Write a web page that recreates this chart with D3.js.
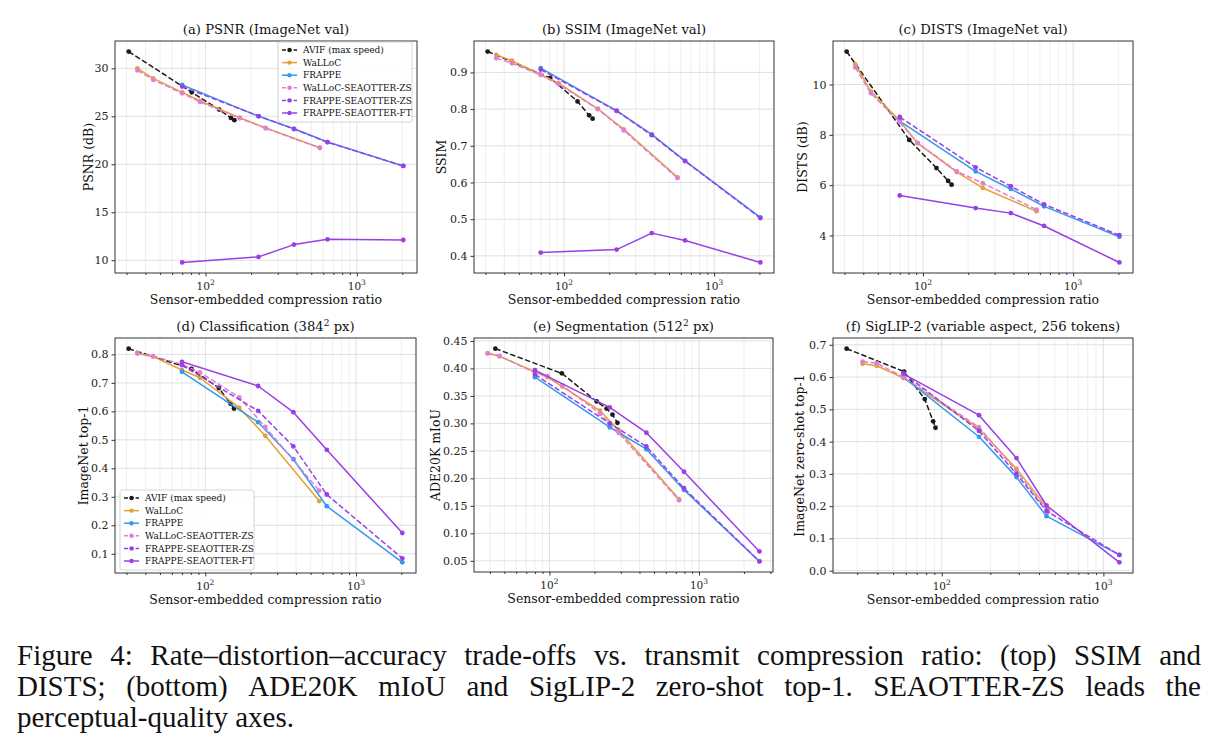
<!DOCTYPE html>
<html lang="en">
<head>
<meta charset="UTF-8">
<title>Figure 4</title>
<script src="https://cdn.jsdelivr.net/npm/d3@7/dist/d3.min.js"></script>
<style>
  * { margin: 0; padding: 0; box-sizing: border-box; }
  body { background: #fff; width: 1219px; height: 753px; overflow: hidden; }
  svg { display: block; }
  .tick text { font-family: 'DejaVu Serif', serif; font-size: 11px; fill: #222; }
  .tick line { stroke: #333; }
</style>
</head>
<body>
<svg id="fig" width="1219" height="753"></svg>
<script>
// ---- data ----
// shared x positions, top row + classification
const avifX = [31, 81, 123, 147, 155];
const wallocX = [35.4, 45, 70, 92, 168, 250, 570];
const frappeX = [70, 224, 384, 640, 2030];

// (a) PSNR
const psnrAvif = [31.75, 27.5, 25.7, 24.83, 24.6];
const psnrWalloc = [30.0, 28.95, 27.5, 26.6, 24.85, 23.8, 21.73];
const psnrFrappe = [28.28, 25.0, 23.7, 22.32, 19.83];
const psnrWallocZS = [29.8, 28.8, 27.4, 26.5, 24.8, 23.75, 21.7];
const psnrFrappeZS = [28.1, 25.03, 23.68, 22.3, 19.83];
const psnrFrappeFT = [9.77, 10.35, 11.63, 12.18, 12.11];

// (b) SSIM
const ssimAvif = [0.957, 0.885, 0.821, 0.783, 0.774];
const ssimWalloc = [0.948, 0.932, 0.894, 0.871, 0.801, 0.745, 0.614];
const ssimFrappe = [0.912, 0.796, 0.731, 0.659, 0.505];
const ssimWallocZS = [0.939, 0.925, 0.893, 0.868, 0.800, 0.742, 0.612];
const ssimFrappeZS = [0.908, 0.795, 0.729, 0.658, 0.503];
const ssimFrappeFT = [0.409, 0.417, 0.462, 0.442, 0.382];

// (c) DISTS
const distsAvif = [11.31, 7.80, 6.68, 6.17, 6.02];
const distsWalloc = [10.80, 9.72, 8.56, 7.67, 6.52, 5.89, 4.96];
const distsFrappe = [8.55, 6.55, 5.85, 5.16, 3.95];
const distsWallocZS = [10.68, 9.65, 8.50, 7.68, 6.55, 6.08, 5.03];
const distsFrappeZS = [8.71, 6.71, 5.96, 5.24, 4.01];
const distsFrappeFT = [5.59, 5.09, 4.89, 4.38, 2.93];

// (d) classification
const clsAvif = [0.820, 0.749, 0.682, 0.627, 0.610];
const clsWalloc = [0.803, 0.792, 0.745, 0.718, 0.613, 0.514, 0.285];
const clsFrappe = [0.739, 0.562, 0.432, 0.267, 0.070];
const clsWallocZS = [0.805, 0.794, 0.765, 0.737, 0.649, 0.545, 0.322];
const clsFrappeZS = [0.762, 0.602, 0.477, 0.308, 0.084];
const clsFrappeFT = [0.774, 0.689, 0.597, 0.465, 0.173];

// (e) segmentation
const segAvifX = [43.5, 121, 207, 241, 264, 285];
const segAvif = [0.436, 0.391, 0.340, 0.327, 0.316, 0.301];
const segWallocX = [38.6, 46.4, 80, 97, 122, 218, 290, 736];
const segWalloc = [0.427, 0.422, 0.394, 0.384, 0.367, 0.323, 0.288, 0.162];
const segWallocZS = [0.428, 0.423, 0.392, 0.386, 0.369, 0.318, 0.283, 0.160];
const segFrappeX = [80, 253, 445, 794, 2535];
const segFrappe = [0.384, 0.293, 0.253, 0.179, 0.049];
const segFrappeZS = [0.389, 0.300, 0.258, 0.182, 0.049];
const segFrappeFT = [0.397, 0.329, 0.283, 0.212, 0.067];

// (f) SigLIP-2 zero-shot
const zsAvifX = [25.8, 58.5, 78.5, 88.5, 91.5];
const zsAvif = [0.688, 0.617, 0.532, 0.463, 0.443];
const zsWallocX = [32.4, 39.6, 58, 170, 290, 455];
const zsWalloc = [0.641, 0.635, 0.597, 0.440, 0.316, 0.190];
const zsWallocZS = [0.648, 0.643, 0.600, 0.445, 0.309, 0.182];
const zsFrappeX = [58, 170, 290, 445, 1256];
const zsFrappe = [0.600, 0.415, 0.290, 0.169, 0.049];
const zsFrappeZS = [0.612, 0.433, 0.300, 0.185, 0.049];
const zsFrappeFT = [0.610, 0.482, 0.349, 0.202, 0.026];

const seriesNames = ['AVIF (max speed)', 'WaLLoC', 'FRAPPE', 'WaLLoC-SEAOTTER-ZS', 'FRAPPE-SEAOTTER-ZS', 'FRAPPE-SEAOTTER-FT'];

// ---- styles ----
const styles = {
  'AVIF (max speed)':   { color: '#1a1a1a', dash: '5.5,2.4' },
  'WaLLoC':             { color: '#e3a232', dash: null },
  'FRAPPE':             { color: '#3399f0', dash: null },
  'WaLLoC-SEAOTTER-ZS': { color: '#e07ed8', dash: '5.5,2.4' },
  'FRAPPE-SEAOTTER-ZS': { color: '#9a3fe6', dash: '5.5,2.4' },
  'FRAPPE-SEAOTTER-FT': { color: '#9a3fe6', dash: null },
};

function mk(xs, ...ys) {
  return ys.map((yv, i) => ({ name: seriesNames[i], xs: xs[i], ys: yv }));
}

const panels = [
  { title: ['(a) PSNR (ImageNet val)'], ylabel: 'PSNR (dB)', box: [115, 41, 417, 273],
    yTicks: [10, 15, 20, 25, 30], fmt: 'd', ylabX: 89, legend: [278, 42],
    series: mk([avifX, wallocX, frappeX, wallocX, frappeX, frappeX], psnrAvif, psnrWalloc, psnrFrappe, psnrWallocZS, psnrFrappeZS, psnrFrappeFT) },
  { title: ['(b) SSIM (ImageNet val)'], ylabel: 'SSIM', box: [474, 41, 774, 273],
    yTicks: [0.4, 0.5, 0.6, 0.7, 0.8, 0.9], fmt: '.1f', ylabX: 442,
    series: mk([avifX, wallocX, frappeX, wallocX, frappeX, frappeX], ssimAvif, ssimWalloc, ssimFrappe, ssimWallocZS, ssimFrappeZS, ssimFrappeFT) },
  { title: ['(c) DISTS (ImageNet val)'], ylabel: 'DISTS (dB)', box: [833, 41, 1133, 273],
    yTicks: [4, 6, 8, 10], fmt: 'd', ylabX: 803,
    series: mk([avifX, wallocX, frappeX, wallocX, frappeX, frappeX], distsAvif, distsWalloc, distsFrappe, distsWallocZS, distsFrappeZS, distsFrappeFT) },
  { title: ['(d) Classification (384', '2', ' px)'], ylabel: 'ImageNet top-1', box: [115, 338, 416, 573],
    yTicks: [0.1, 0.2, 0.3, 0.4, 0.5, 0.6, 0.7, 0.8], fmt: '.1f', ylabX: 84, legend: [120, 490],
    series: mk([avifX, wallocX, frappeX, wallocX, frappeX, frappeX], clsAvif, clsWalloc, clsFrappe, clsWallocZS, clsFrappeZS, clsFrappeFT) },
  { title: ['(e) Segmentation (512', '2', ' px)'], ylabel: 'ADE20K mIoU', box: [474, 338, 773, 572],
    yTicks: [0.05, 0.10, 0.15, 0.20, 0.25, 0.30, 0.35, 0.40, 0.45], fmt: '.2f', ylabX: 436,
    series: mk([segAvifX, segWallocX, segFrappeX, segWallocX, segFrappeX, segFrappeX], segAvif, segWalloc, segFrappe, segWallocZS, segFrappeZS, segFrappeFT) },
  { title: ['(f) SigLIP-2 (variable aspect, 256 tokens)'], ylabel: 'ImageNet zero-shot top-1', box: [833, 338, 1133, 573],
    yTicks: [0.0, 0.1, 0.2, 0.3, 0.4, 0.5, 0.6, 0.7], fmt: '.1f', ylabX: 800,
    series: mk([zsAvifX, zsWallocX, zsFrappeX, zsWallocX, zsFrappeX, zsFrappeX], zsAvif, zsWalloc, zsFrappe, zsWallocZS, zsFrappeZS, zsFrappeFT) },
];

const svg = d3.select('#fig');
svg.append('rect').attr('width', 1219).attr('height', 753).attr('fill', '#fff');

const SERIF = "'DejaVu Serif', serif";

function padded(lo, hi) {
  const m = (hi - lo) * 0.05;
  return [lo - m, hi + m];
}

function drawPanel(p) {
  const [x0, y0, x1, y1] = p.box;
  const allX = p.series.flatMap(s => s.xs), allY = p.series.flatMap(s => s.ys);
  const lx = padded(Math.log10(d3.min(allX)), Math.log10(d3.max(allX)));
  const x = d3.scaleLog().domain([10 ** lx[0], 10 ** lx[1]]).range([x0, x1]);
  const y = d3.scaleLinear().domain(padded(d3.min(allY), d3.max(allY))).range([y1, y0]);
  const g = svg.append('g');

  // ticks along x: majors + minors
  const [dlo, dhi] = x.domain();
  const majors = [], minors = [];
  for (let e = Math.floor(Math.log10(dlo)); e <= Math.ceil(Math.log10(dhi)); e++) {
    for (let k = 1; k <= 9; k++) {
      const v = k * 10 ** e;
      if (v < dlo || v > dhi) continue;
      (k === 1 ? majors : minors).push(v);
    }
  }

  // grid
  const grid = g.append('g');
  grid.selectAll('.gmin').data(minors).enter().append('line')
    .attr('x1', d => x(d)).attr('x2', d => x(d)).attr('y1', y0).attr('y2', y1)
    .attr('stroke', '#ebebeb').attr('stroke-width', 0.8);
  grid.selectAll('.gmaj').data(majors).enter().append('line')
    .attr('x1', d => x(d)).attr('x2', d => x(d)).attr('y1', y0).attr('y2', y1)
    .attr('stroke', '#dcdcdc').attr('stroke-width', 0.9);
  grid.selectAll('.gy').data(p.yTicks).enter().append('line')
    .attr('x1', x0).attr('x2', x1).attr('y1', d => y(d)).attr('y2', d => y(d))
    .attr('stroke', '#dcdcdc').attr('stroke-width', 0.9);

  // axes
  const ax = g.append('g').attr('transform', `translate(0,${y1})`)
    .call(d3.axisBottom(x).tickValues(majors).tickFormat('').tickSize(3.5).tickSizeOuter(0));
  ax.select('.domain').remove();
  const axm = g.append('g').attr('transform', `translate(0,${y1})`)
    .call(d3.axisBottom(x).tickValues(minors).tickFormat('').tickSize(2).tickSizeOuter(0));
  axm.select('.domain').remove();
  majors.forEach(v => {
    const t = g.append('text').attr('x', x(v)).attr('y', y1 + 16.5)
      .attr('text-anchor', 'middle').attr('font-family', SERIF).attr('font-size', 10.5).attr('fill', '#222');
    t.append('tspan').text('10');
    t.append('tspan').attr('dy', -4.5).attr('font-size', 7.5).text(Math.round(Math.log10(v)));
  });
  const ay = g.append('g').attr('transform', `translate(${x0},0)`)
    .call(d3.axisLeft(y).tickValues(p.yTicks).tickFormat(d3.format(p.fmt)).tickSize(3.5).tickPadding(3).tickSizeOuter(0));
  ay.select('.domain').remove();

  // spines
  g.append('rect').attr('x', x0).attr('y', y0).attr('width', x1 - x0).attr('height', y1 - y0)
    .attr('fill', 'none').attr('stroke', '#333').attr('stroke-width', 1);

  // labels
  const tt = g.append('text').attr('x', (x0 + x1) / 2).attr('y', y0 - 7)
    .attr('text-anchor', 'middle').attr('font-family', SERIF).attr('font-size', 13.2).attr('fill', '#111');
  tt.append('tspan').text(p.title[0]);
  if (p.title.length > 1) {
    tt.append('tspan').attr('dy', -5).attr('font-size', 9).text(p.title[1]);
    tt.append('tspan').attr('dy', 5).text(p.title[2]);
  }
  g.append('text').attr('x', (x0 + x1) / 2).attr('y', y1 + 30.5)
    .attr('text-anchor', 'middle').attr('font-family', SERIF).attr('font-size', 12.5).attr('fill', '#111')
    .text('Sensor-embedded compression ratio');
  g.append('text').attr('transform', `translate(${p.ylabX},${(y0 + y1) / 2}) rotate(-90)`)
    .attr('text-anchor', 'middle').attr('dy', '0.35em').attr('font-family', SERIF).attr('font-size', 12.5).attr('fill', '#111')
    .text(p.ylabel);

  // series
  const clipId = 'clip' + x0 + '_' + y0;
  svg.append('clipPath').attr('id', clipId).append('rect')
    .attr('x', x0).attr('y', y0).attr('width', x1 - x0).attr('height', y1 - y0);
  const plot = g.append('g').attr('clip-path', `url(#${clipId})`);
  const line = d3.line().x(d => x(d[0])).y(d => y(d[1]));
  p.series.forEach(s => {
    const st = styles[s.name];
    const pts = s.xs.map((xv, i) => [xv, s.ys[i]]);
    plot.append('path').datum(pts).attr('d', line)
      .attr('fill', 'none').attr('stroke', st.color).attr('stroke-width', 1.5)
      .attr('stroke-dasharray', st.dash).attr('stroke-linejoin', 'round');
    plot.selectAll(null).data(pts).enter().append('circle')
      .attr('cx', d => x(d[0])).attr('cy', d => y(d[1])).attr('r', 2.4)
      .attr('fill', st.color);
  });

  if (p.legend) drawLegend(p.legend[0], p.legend[1]);
}

function drawLegend(lx, ly) {
  const lg = svg.append('g').attr('transform', `translate(${lx},${ly})`);
  lg.append('rect').attr('width', 134).attr('height', 80).attr('rx', 2)
    .attr('fill', 'rgba(255,255,255,0.85)').attr('stroke', '#cccccc').attr('stroke-width', 0.8);
  seriesNames.forEach((n, i) => {
    const st = styles[n];
    const yy = 8 + i * 12.6;
    lg.append('line').attr('x1', 4).attr('x2', 19).attr('y1', yy).attr('y2', yy)
      .attr('stroke', st.color).attr('stroke-width', 1.5).attr('stroke-dasharray', st.dash ? '4,1.8' : null);
    lg.append('circle').attr('cx', 11.5).attr('cy', yy).attr('r', 2.2).attr('fill', st.color);
    lg.append('text').attr('x', 25).attr('y', yy).attr('dy', '0.35em')
      .attr('font-family', SERIF).attr('font-size', 9).attr('fill', '#111').text(n);
  });
}

panels.forEach(drawPanel);

// caption, justified by spreading the gaps between words
const captionLines = [
  'Figure 4:  Rate\u2013distortion\u2013accuracy trade-offs vs. transmit compression ratio:  (top) SSIM and',
  'DISTS; (bottom) ADE20K mIoU and SigLIP-2 zero-shot top-1.   SEAOTTER-ZS leads the',
  'perceptual-quality axes.'
];
const CAP_FONT = "'Liberation Serif', 'Times New Roman', serif";
const CAP_SIZE = 29, CAP_LEFT = 17, CAP_RIGHT = 1201;
captionLines.forEach((t, i) => {
  const yy = 665 + i * 31;
  const words = t.split(/\s+/);
  const cap = svg.append('g');
  const els = words.map(w => cap.append('text').attr('y', yy)
    .attr('font-family', CAP_FONT).attr('font-size', CAP_SIZE).attr('fill', '#111').text(w));
  const widths = els.map(e => e.node().getComputedTextLength());
  const space = CAP_SIZE * 0.25;
  let gap = space;
  if (i < 2) gap = (CAP_RIGHT - CAP_LEFT - d3.sum(widths)) / (words.length - 1);
  let cx = CAP_LEFT;
  els.forEach((e, k) => { e.attr('x', cx); cx += widths[k] + gap; });
});
</script>
</body>
</html>
